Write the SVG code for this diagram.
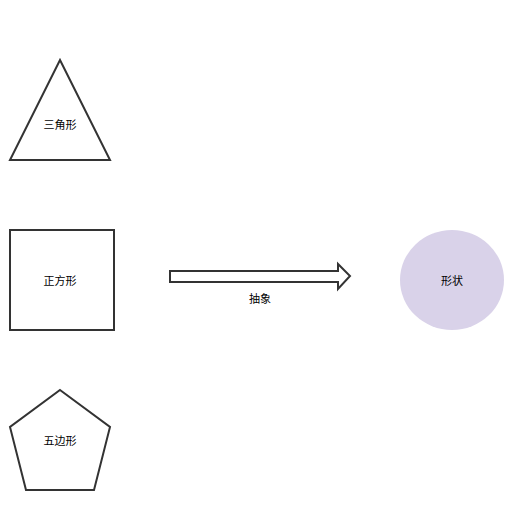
<svg xmlns="http://www.w3.org/2000/svg" width="524" height="510" viewBox="0 0 524 510">
<style>
.s{fill:#fff;stroke:#333;stroke-width:2}
.t{font-family:"Noto Sans CJK SC","Liberation Sans",sans-serif;font-size:11px;fill:#000;text-anchor:middle;dominant-baseline:central}
</style>
<rect width="524" height="510" fill="#fff"/>
<g id="triangle">
<polygon class="s" points="60,60 110,160 10,160"/>
<text class="t" x="60" y="124">三角形</text>
</g>
<g id="square">
<rect class="s" x="10" y="230" width="104" height="100"/>
<text class="t" x="60" y="280">正方形</text>
</g>
<g id="pentagon">
<polygon class="s" points="60,390 110,427 94,490 26,490 10,427"/>
<text class="t" x="60" y="440">五边形</text>
</g>
<g id="shape">
<ellipse cx="452" cy="280" rx="52" ry="50" fill="#d9d2e9"/>
<text class="t" x="452" y="280">形状</text>
</g>
<g id="connectors">
<polygon class="s" points="170,271 338,271 338,264 350,276 338,289 338,282 170,282"/>
<text class="t" x="260" y="298">抽象</text>
</g>
</svg>
